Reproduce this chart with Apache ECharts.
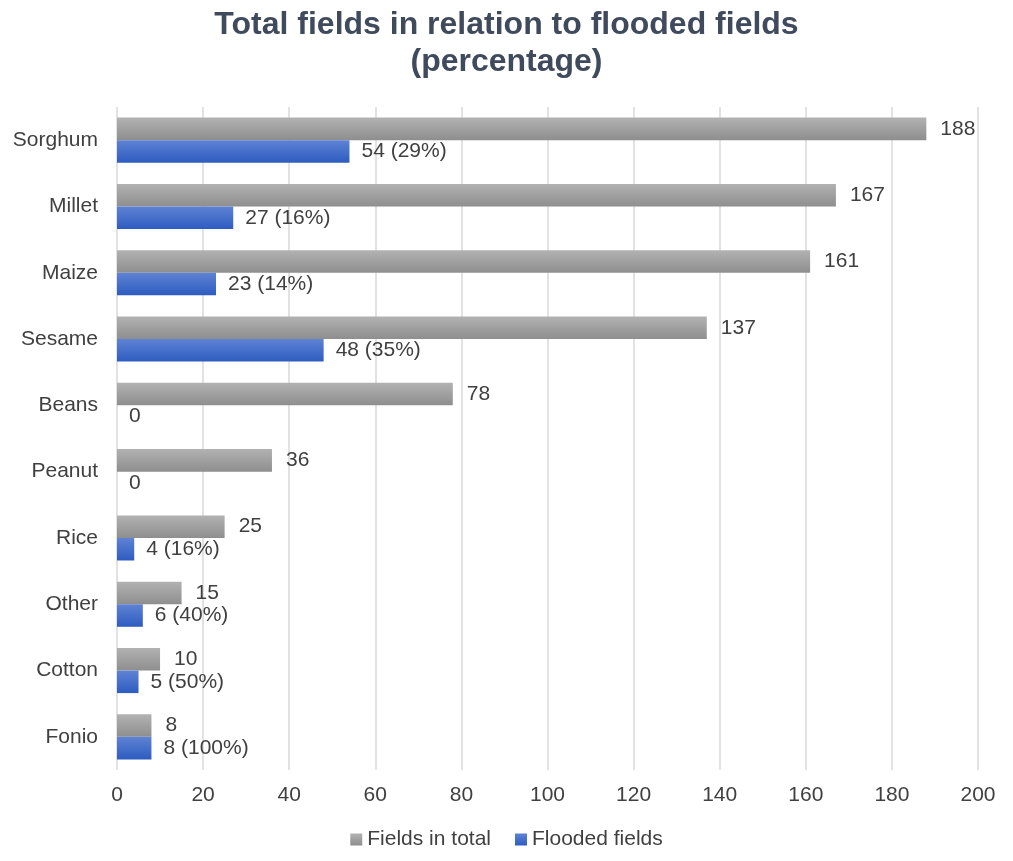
<!DOCTYPE html>
<html><head><meta charset="utf-8">
<script src="https://cdn.jsdelivr.net/npm/echarts@6/dist/echarts.min.js"></script>
<style>html,body{margin:0;padding:0;background:#fff}#c{width:1013px;height:861px}</style>
</head><body><div id="c"></div>
<script>
const categories = ['Sorghum','Millet','Maize','Sesame','Beans','Peanut','Rice','Other','Cotton','Fonio'];
const totalFields = [188,167,161,137,78,36,25,15,10,8];
const floodedFields = [54,27,23,48,0,0,4,6,5,8];
const floodedPct = ['29%','16%','14%','35%','','','16%','40%','50%','100%'];
const xTicks = [0,20,40,60,80,100,120,140,160,180,200];

const chart = echarts.init(document.getElementById('c'));
const txt = '#404040';
const font = 'Arial, "Liberation Sans", sans-serif';
chart.setOption({
  animation:false,
  title:{text:'Total fields in relation to flooded fields\n(percentage)',left:'center',top:2,
    textStyle:{fontSize:32,fontWeight:'bold',color:'#3f4b5c',fontFamily:font,lineHeight:37}},
  grid:{left:117,right:35,top:107,bottom:91},
  legend:{bottom:6,left:'center',itemWidth:12,itemHeight:12,itemGap:24,itemTextGap:4,
    icon:'rect',textStyle:{fontSize:21,color:txt,fontFamily:font},
    data:['Fields in total','Flooded fields']},
  xAxis:{type:'value',min:xTicks[0],max:xTicks[xTicks.length-1],interval:20,
    axisLine:{show:false},axisTick:{show:false},
    splitLine:{lineStyle:{color:'#d9d9d9',width:1.5}},
    axisLabel:{fontSize:21,color:txt,fontFamily:font,margin:15}},
  yAxis:{type:'category',data:categories,inverse:true,
    axisLine:{show:false},axisTick:{show:false},
    axisLabel:{fontSize:21,color:txt,fontFamily:font,margin:19}},
  series:[
    {name:'Fields in total',type:'bar',data:totalFields,barGap:'0%',barCategoryGap:'32%',
      itemStyle:{color:new echarts.graphic.LinearGradient(0,0,0,1,[{offset:0,color:'#b2b2b2'},{offset:1,color:'#8e8e8e'}])},
      label:{show:true,position:'right',distance:14,fontSize:21,color:txt,fontFamily:font}},
    {name:'Flooded fields',type:'bar',data:floodedFields,
      itemStyle:{color:new echarts.graphic.LinearGradient(0,0,0,1,[{offset:0,color:'#5f83d4'},{offset:1,color:'#2d5cc0'}])},
      label:{show:true,position:'right',distance:12,fontSize:21,color:txt,fontFamily:font,
        formatter:p=>floodedPct[p.dataIndex]?p.value+' ('+floodedPct[p.dataIndex]+')':String(p.value)}}
  ]
});
</script></body></html>
